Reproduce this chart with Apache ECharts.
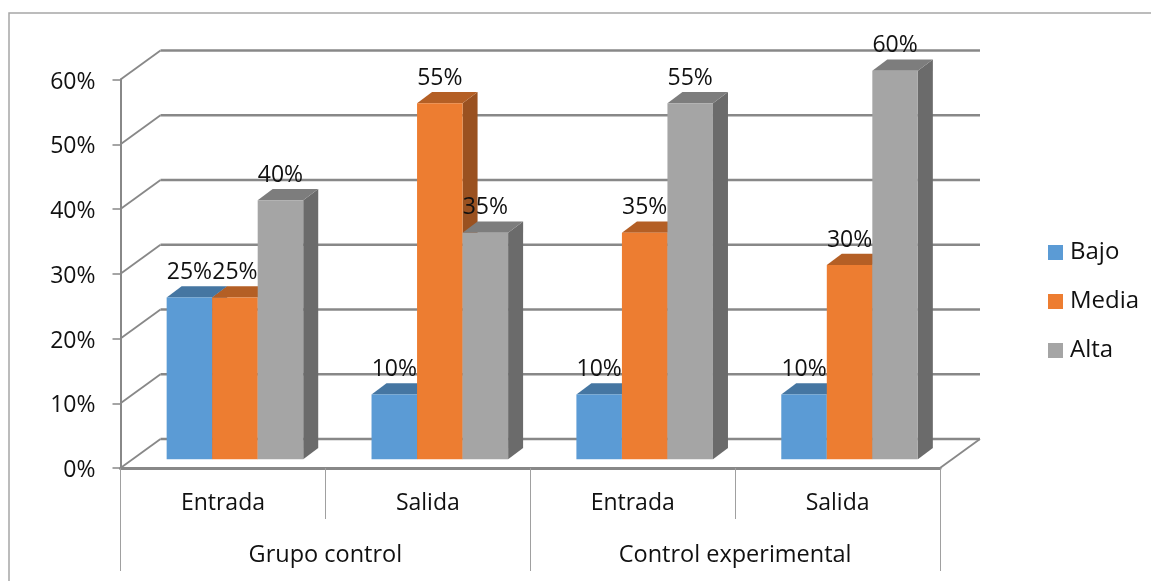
<!DOCTYPE html>
<html><head><meta charset="utf-8">
<style>html,body{margin:0;padding:0;background:#fff}#c{width:1151px;height:581px}</style>
<script src="https://cdn.jsdelivr.net/npm/echarts@6/dist/echarts.min.js"></script>
</head><body><div id="c"></div>
<script>
const categories = ['Entrada','Salida','Entrada','Salida'];
const groups = ['Grupo control','Control experimental'];
const bajo = [25,10,10,10];
const media = [25,55,35,30];
const alta = [40,35,55,60];
const yTicks = [0,10,20,30,40,50,60];
const FONT = '"Open Sans"';
const FS = 23;
const WALL = [40,-29], DEPTH = [15,-11.3], LIFT = -8.7, BAR_RATIO = 0.2222, SHIFT = 12, GRID='#888888';
const defs = [
 {name:'Bajo',values:bajo,front:'#5B9BD5',top:'#4576A2',side:'#3B658A'},
 {name:'Media',values:media,front:'#ED7D31',top:'#B45F25',side:'#9A5120'},
 {name:'Alta',values:alta,front:'#A5A5A5',top:'#7D7D7D',side:'#6B6B6B'}
];
function barBox(api,idx){
  const p=api.coord([api.value(0),api.value(1)]);
  const base=api.coord([api.value(0),0]);
  const bw=api.size([1,0])[0]*BAR_RATIO;
  const x=p[0]+SHIFT+(idx-1.5)*bw;
  return {x,w:bw,top:p[1]+LIFT,bot:base[1]+LIFT};
}
const barSeries=defs.map((d,idx)=>({
  name:d.name,type:'custom',coordinateSystem:'cartesian2d',xAxisIndex:0,yAxisIndex:0,z:3,silent:true,
  itemStyle:{color:d.front},
  data:d.values.map((v,i)=>[i,v]),
  renderItem(params,api){
    const b=barBox(api,idx),dx=DEPTH[0],dy=DEPTH[1];
    return {type:'group',children:[
      {type:'polygon',shape:{points:[[b.x+b.w,b.top],[b.x+b.w+dx,b.top+dy],[b.x+b.w+dx,b.bot+dy],[b.x+b.w,b.bot]]},style:{fill:d.side}},
      {type:'polygon',shape:{points:[[b.x,b.top],[b.x+dx,b.top+dy],[b.x+b.w+dx,b.top+dy],[b.x+b.w,b.top]]},style:{fill:d.top}},
      {type:'rect',shape:{x:b.x,y:b.top,width:b.w,height:b.bot-b.top},style:{fill:d.front}}
    ]};
  }
}));
const labelSeries=defs.map((d,idx)=>({
  type:'custom',coordinateSystem:'cartesian2d',xAxisIndex:0,yAxisIndex:0,z:6,silent:true,
  data:d.values.map((v,i)=>[i,v]),
  renderItem(params,api){
    const b=barBox(api,idx);
    return {type:'text',style:{x:b.x+b.w/2,y:b.top-25,text:api.value(1)+'%',fontFamily:FONT,fontSize:FS,fill:'#111',align:'center',verticalAlign:'middle'}};
  }
}));
const wallSeries={
  type:'custom',coordinateSystem:'cartesian2d',xAxisIndex:0,yAxisIndex:0,z:1,silent:true,
  data:yTicks.map(v=>[0,v]),
  renderItem(params,api){
    const bw=api.size([1,0])[0];
    const p=api.coord([0,api.value(1)]);
    const x0=p[0]-bw/2,x1=x0+bw*categories.length,y=p[1];
    const bx=x0+WALL[0],ex=x1+WALL[0],by=y+WALL[1];
    const children=[
      {type:'polyline',shape:{points:[[x0,y],[bx,by]]},style:{fill:'none',stroke:GRID,lineWidth:1.8}},
      {type:'polyline',shape:{points:[[bx,by],[ex,by]]},style:{fill:'none',stroke:GRID,lineWidth:2.4}}
    ];
    if(api.value(1)===0) children.push({type:'polyline',shape:{points:[[ex,by],[x1,y]]},style:{fill:'none',stroke:GRID,lineWidth:1.8}});
    return {type:'group',children};
  }
};
const chart=echarts.init(document.getElementById('c'),null,{renderer:'canvas'});
chart.setOption({
  animation:false,backgroundColor:'#fff',
  graphic:[{type:'polyline',silent:true,shape:{points:[[9,581],[9,13],[1151,13]]},style:{fill:'none',stroke:'#A6A6A6',lineWidth:1.5}}],
  grid:{left:120.5,right:211,top:79.5,bottom:113,containLabel:false},
  legend:{orient:'vertical',left:1048,top:240.5,padding:0,itemWidth:15,itemHeight:15,itemGap:25,icon:'rect',
    data:defs.map(d=>d.name),textStyle:{fontFamily:FONT,fontSize:24,color:'#111',padding:[0,0,0,2]}},
  xAxis:[
   {type:'category',position:'bottom',data:categories,
    axisLine:{show:true,lineStyle:{color:GRID,width:3}},
    axisTick:{show:true,length:51,interval:0,lineStyle:{color:'#A0A0A0',width:1}},
    axisLabel:{interval:0,margin:24,fontFamily:FONT,fontSize:FS,color:'#111'}},
   {type:'category',position:'bottom',data:groups,
    axisLine:{show:false},
    axisTick:{show:true,length:103,interval:0,lineStyle:{color:'#A0A0A0',width:1}},
    axisLabel:{interval:0,margin:75.5,fontFamily:FONT,fontSize:23.5,color:'#111'}}
  ],
  yAxis:{type:'value',min:0,max:60,interval:10,
    axisLine:{show:true,lineStyle:{color:GRID,width:2}},
    axisTick:{show:true,length:8,lineStyle:{color:GRID,width:1.5}},
    splitLine:{show:false},
    axisLabel:{formatter:'{a|{value}%}',margin:25,fontFamily:FONT,fontSize:FS,color:'#111',
      rich:{a:{fontFamily:FONT,fontSize:FS,color:'#111',padding:[5,0,0,0]}}}},
  series:[wallSeries,...barSeries,...labelSeries]
});
</script></body></html>
